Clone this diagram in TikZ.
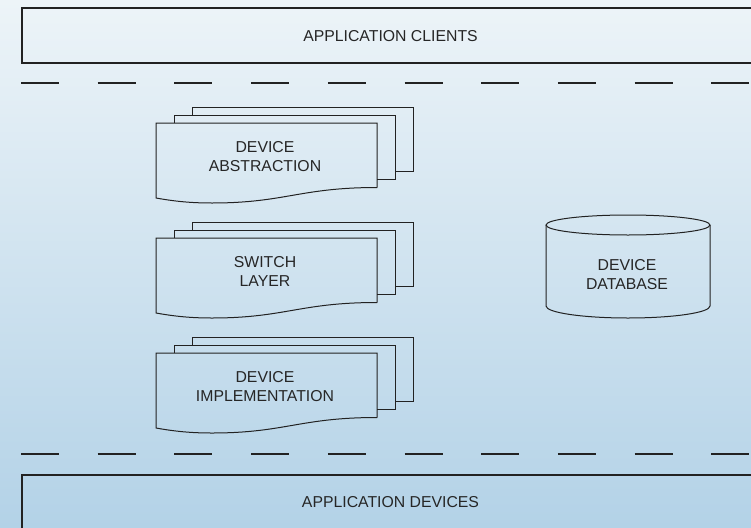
\documentclass[tikz,border=0pt]{standalone}
\usepackage{fontspec}
\setmainfont{Liberation Sans}
\definecolor{linec}{HTML}{222222}
\definecolor{textc}{HTML}{262626}
\definecolor{bgtop}{HTML}{EDF4F8}
\definecolor{bgmid}{HTML}{D6E7F1}
\definecolor{bgbot}{HTML}{B3D2E7}
\newcommand\mdoc[1]{%
  \draw[ln] (192,{#1-8}) -- (192,{#1-16}) -- (413,{#1-16}) -- (413,{#1+48.5}) -- (395,{#1+48.5});
  \draw[ln] (174,{#1}) -- (174,{#1-8}) -- (395,{#1-8}) -- (395,{#1+56.5}) -- (377,{#1+56.5});
  \draw[ln] (377,{#1+64.5}) -- (377,{#1}) -- (156,{#1}) -- (156,{#1+75})
    .. controls (178,{#1+79}) and (195,{#1+80}) .. (212,{#1+80})
    .. controls (285,{#1+80}) and (300,{#1+64.5}) .. (377,{#1+64.5});
}
\begin{document}
\begin{tikzpicture}[x=1pt,y=-1pt,
  ln/.style={draw=linec, line width=1pt},
  boxln/.style={draw=linec, line width=1.2pt},
  lbl/.style={font=\fontsize{15.8}{18.5}\selectfont, text=textc, align=center, inner sep=0pt},
  sepline/.style={draw=linec, line width=1.1pt, dash pattern=on 38pt off 38.7pt}]
\useasboundingbox (0,0) rectangle (751,527);
\clip (0,0) rectangle (751,527);
\shade[top color=bgtop, middle color=bgmid, bottom color=bgbot] (0,0) rectangle (751,527);

% top box
\coordinate (tbA) at (22,8);
\coordinate (tbB) at (770,63);
\draw[boxln] (tbA) rectangle (tbB);
\node[lbl] (clients) at (390.5,36) {APPLICATION CLIENTS};

% separators
\coordinate (s1a) at (21,83);
\coordinate (s1b) at (760,83);
\draw[sepline] (s1a) -- (s1b);
\coordinate (s2a) at (21,454);
\coordinate (s2b) at (760,454);
\draw[sepline] (s2a) -- (s2b);

% bottom box
\coordinate (bbA) at (22,475);
\coordinate (bbB) at (770,540);
\draw[boxln] (bbA) rectangle (bbB);
\node[lbl] (devices) at (390.5,502) {APPLICATION DEVICES};

% stacked documents
\mdoc{123}
\node[lbl] (abs) at (265,156.5) {DEVICE\\ABSTRACTION};
\mdoc{238}
\node[lbl] (sw) at (265,271.5) {SWITCH\\LAYER};
\mdoc{353}
\node[lbl] (impl) at (265,386.5) {DEVICE\\IMPLEMENTATION};

% database cylinder
\draw[ln] (546,225) -- (546,306) arc[start angle=180, end angle=0, x radius=82, y radius=12]
  -- (710,225);
\draw[ln] (628,225) ellipse[x radius=82, y radius=10];
\node[lbl] (db) at (627,274.5) {DEVICE\\DATABASE};
\end{tikzpicture}
\end{document}
